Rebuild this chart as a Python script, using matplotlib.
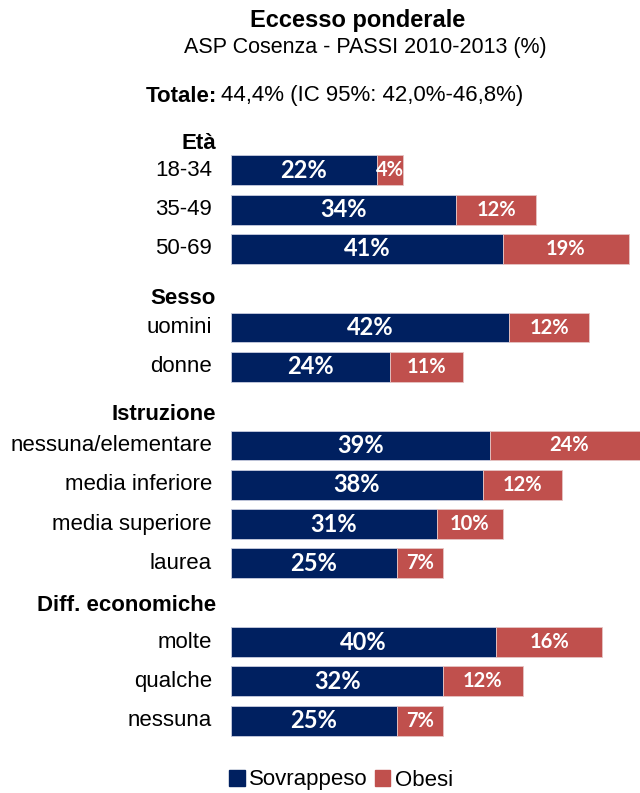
import matplotlib

matplotlib.use("Agg")
import matplotlib.pyplot as plt
from matplotlib.patches import Patch
from matplotlib.transforms import blended_transform_factory

plt.rcParams["font.family"] = ["Liberation Sans", "DejaVu Sans"]

# dati
categorie = ["18-34", "35-49", "50-69",
             "uomini", "donne",
             "nessuna/elementare", "media inferiore", "media superiore", "laurea",
             "molte", "qualche", "nessuna"]
sovrappeso = [22, 34, 41, 42, 24, 39, 38, 31, 25, 40, 32, 25]
obesi = [4, 12, 19, 12, 11, 24, 12, 10, 7, 16, 12, 7]
gruppi = ["Età", "Sesso", "Istruzione", "Diff. economiche"]

# posizione (slot) di ogni riga: gli slot vuoti ospitano i titoli dei gruppi
slot_righe = [1, 2, 3, 5, 6, 8, 9, 10, 11, 13, 14, 15]
slot_gruppi = [0, 4, 7, 12]
dy_gruppi = [0.32, 0.27, 0.22, 0.08]

NAVY = "#002060"
ROSSO = "#C0504D"

W, H = 640, 793
fig = plt.figure(figsize=(W / 100, H / 100), dpi=100)
ax = fig.add_axes([231 / W, 1 - 745 / H, 1 - 231 / W, 635 / H])

ax.barh(slot_righe, sovrappeso, height=0.76, color=NAVY, edgecolor="#c8cde0", linewidth=0.6)
ax.barh(slot_righe, obesi, left=sovrappeso, height=0.76, color=ROSSO,
        edgecolor="#e6c4c3", linewidth=0.6)

for y, s, o in zip(slot_righe, sovrappeso, obesi):
    ax.text(s / 2, y, f"{s}%", ha="center", va="center", color="white",
            fontsize=17, fontweight="bold", family=["Lato", "DejaVu Sans"])
    ax.text(s + o / 2, y, f"{o}%", ha="center", va="center", color="white",
            fontsize=14.5, fontweight="bold", family=["Lato", "DejaVu Sans"],
            clip_on=True)

ax.set_xlim(0, (W - 231) / 6.63)
ax.set_ylim(15.62, -0.534)
ax.axis("off")

tr = blended_transform_factory(fig.transFigure, ax.transData)
for y, lab in zip(slot_righe, categorie):
    ax.text(212 / W, y, lab, transform=tr, ha="right", va="center", fontsize=16)
for sl, g, dy in zip(slot_gruppi, gruppi, dy_gruppi):
    ax.text(216 / W, sl + dy, g, transform=tr, ha="right", va="center",
            fontsize=16, fontweight="bold")

# titoli
fig.text(358 / W, 1 - 20 / H, "Eccesso ponderale", ha="center", va="center",
         fontsize=17, fontweight="bold")
fig.text(365 / W, 1 - 47 / H, "ASP Cosenza - PASSI 2010-2013 (%)", ha="center",
         va="center", fontsize=15.5)
t1 = fig.text(146 / W, 1 - 96 / H, "Totale:", ha="left", va="center",
              fontsize=16, fontweight="bold")
fig.canvas.draw()
bb = t1.get_window_extent()
fig.text(bb.x1 / W + 4 / W, 1 - 96 / H, "44,4% (IC 95%: 42,0%-46,8%)", ha="left",
         va="center", fontsize=16)

handles = [Patch(color=NAVY, label="Sovrappeso"), Patch(color=ROSSO, label="Obesi")]
fig.legend(handles=handles, loc="center", bbox_to_anchor=(341 / W, 1 - 780 / H),
           ncol=2, frameon=False, fontsize=16, handlelength=0.7, handleheight=0.7,
           handletextpad=0.2, columnspacing=0.3, borderpad=0)

fig.savefig("out.png", dpi=100)
